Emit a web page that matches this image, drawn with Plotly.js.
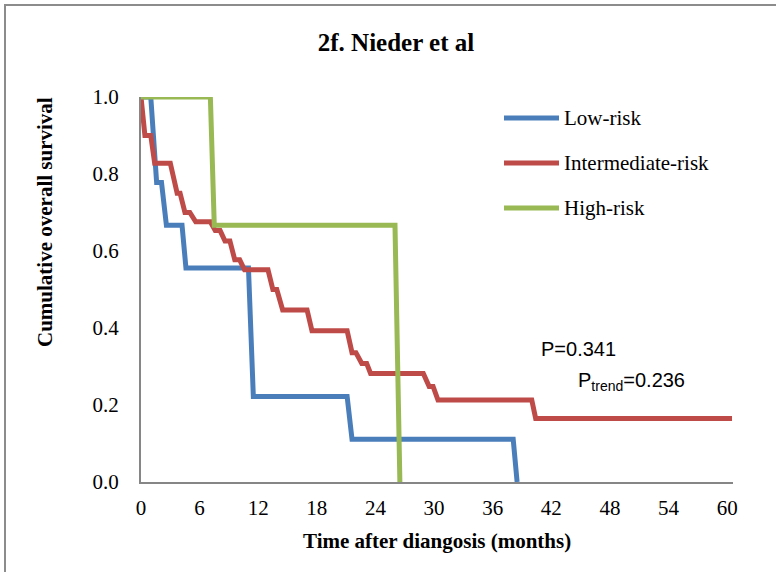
<!DOCTYPE html>
<html>
<head>
<meta charset="utf-8">
<script src="https://cdn.plot.ly/plotly-3.0.1.min.js"></script>
<style>
  html, body { margin: 0; padding: 0; background: #ffffff; }
  #wrap { position: relative; width: 776px; height: 572px; overflow: hidden; }
  #frame { position: absolute; left: 4px; top: 4px; width: 800px; height: 600px;
           border-left: 2px solid #8c8c8c; border-top: 2px solid #8c8c8c; pointer-events: none; z-index: 5; }
  #chart { position: absolute; left: 0; top: 0; width: 776px; height: 572px; }
</style>
</head>
<body>
<div id="wrap">
  <div id="chart"></div>
  <div id="frame"></div>
</div>
<script>
// ---- Data ----
const seriesNames = ["Low-risk", "Intermediate-risk", "High-risk"];

const lowTime = [0, 1.0, 1.6, 2.1, 2.6, 4.2, 4.6, 11.0, 11.5, 21.1, 21.6, 38.1, 38.5];
const lowSurv = [1.0, 1.0, 0.778, 0.778, 0.667, 0.667, 0.556, 0.556, 0.222, 0.222, 0.111, 0.111, 0.0];

const intTime = [0, 0.4, 1.0, 1.4, 3.0, 3.7, 4.0, 4.5, 5.0, 5.6, 7.1, 7.6, 8.1, 8.6, 9.1, 9.6, 10.1, 10.6,
                 13.0, 13.5, 13.9, 14.5, 17.0, 17.5, 21.1, 21.6, 22.0, 22.6, 23.1, 23.5, 28.9, 29.5, 29.9, 30.4,
                 40.0, 40.4, 60.5];
const intSurv = [1.0, 0.90, 0.90, 0.828, 0.828, 0.75, 0.75, 0.70, 0.70, 0.676, 0.676, 0.653, 0.653, 0.626, 0.626, 0.577, 0.577, 0.551,
                 0.551, 0.50, 0.50, 0.447, 0.447, 0.393, 0.393, 0.336, 0.336, 0.308, 0.308, 0.282, 0.282, 0.248, 0.248, 0.213,
                 0.213, 0.165, 0.165];

const highTime = [0, 7.1, 7.5, 26.0, 26.5];
const highSurv = [1.0, 1.0, 0.667, 0.667, 0.0];

const xTicks = [0, 6, 12, 18, 24, 30, 36, 42, 48, 54, 60];
const yTicks = [0, 0.2, 0.4, 0.6, 0.8, 1.0];
const xMax = 60.6;
const pOverall = "P=0.341";
const pTrend = "P<sub>trend</sub>=0.236";

const colors = ["#4a7ebb", "#be4b48", "#98b954"];

// ---- Traces ----
const mk = (x, y, i) => ({
  x: x, y: y, type: "scatter", mode: "lines", name: seriesNames[i],
  line: { color: colors[i], width: 5 }, cliponaxis: false, showlegend: false, hoverinfo: "skip"
});
const data = [mk(lowTime, lowSurv, 0), mk(intTime, intSurv, 1), mk(highTime, highSurv, 2)];

// ---- Layout helpers (pixel -> paper) ----
const L = 141, R = 733, T = 97, B = 482;
const px = v => (v - L) / (R - L);
const py = v => (B - v) / (B - T);

const serif = "Liberation Serif, Times New Roman, serif";
const sans = "Liberation Sans, Arial, sans-serif";

const legendY = [118, 163, 208];
const shapes = [];
const annotations = [];
seriesNames.forEach((n, i) => {
  shapes.push({ type: "line", xref: "paper", yref: "paper", x0: px(504), x1: px(559), y0: py(legendY[i]), y1: py(legendY[i]),
                line: { color: colors[i], width: 5 } });
  annotations.push({ xref: "paper", yref: "paper", x: px(562), y: py(legendY[i]), xanchor: "left", yanchor: "middle",
                     text: n, showarrow: false, font: { family: serif, size: 21, color: "#000" } });
});
annotations.push({ xref: "paper", yref: "paper", x: px(539), y: py(349), xanchor: "left", yanchor: "middle",
                   text: pOverall, showarrow: false, font: { family: sans, size: 20, color: "#000" } });
annotations.push({ xref: "paper", yref: "paper", x: px(576), y: py(381), xanchor: "left", yanchor: "middle",
                   text: pTrend, showarrow: false, font: { family: sans, size: 20, color: "#000" } });
annotations.push({ xref: "paper", yref: "paper", x: px(437), y: py(541), xanchor: "center", yanchor: "middle",
                   text: "Time after diangosis (months)", showarrow: false,
                   font: { family: serif, size: 21, color: "#000", weight: "bold" } });
annotations.push({ xref: "paper", yref: "paper", x: px(45), y: py(222), xanchor: "center", yanchor: "middle",
                   textangle: -90, text: "Cumulative overall survival", showarrow: false,
                   font: { family: serif, size: 21, color: "#000", weight: "bold" } });

const layout = {
  width: 776, height: 572,
  margin: { l: L, r: 776 - R, t: T, b: 572 - B, pad: 0 },
  paper_bgcolor: "#ffffff", plot_bgcolor: "#ffffff",
  showlegend: false,
  title: { text: "2f. Nieder et al", x: px(396), xref: "paper", xanchor: "center", y: 1 - 42 / 572, yref: "container",
           yanchor: "middle", font: { family: serif, size: 25, color: "#000", weight: "bold" } },
  xaxis: { range: [0, xMax], tickvals: xTicks, ticktext: xTicks.map(String), showgrid: false, zeroline: false,
           showline: true, linecolor: "#868686", linewidth: 2, ticks: "", ticklabelstandoff: 6,
           tickfont: { family: serif, size: 21, color: "#000" }, fixedrange: true },
  yaxis: { range: [0, 1], tickvals: yTicks, ticktext: yTicks.map(v => v.toFixed(1)), showgrid: false, zeroline: false,
           showline: true, linecolor: "#868686", linewidth: 2, ticks: "", ticklabelstandoff: 16,
           tickfont: { family: serif, size: 21, color: "#000" }, fixedrange: true },
  shapes: shapes,
  annotations: annotations
};

Plotly.newPlot("chart", data, layout, { displayModeBar: false, staticPlot: true });
</script>
</body>
</html>
